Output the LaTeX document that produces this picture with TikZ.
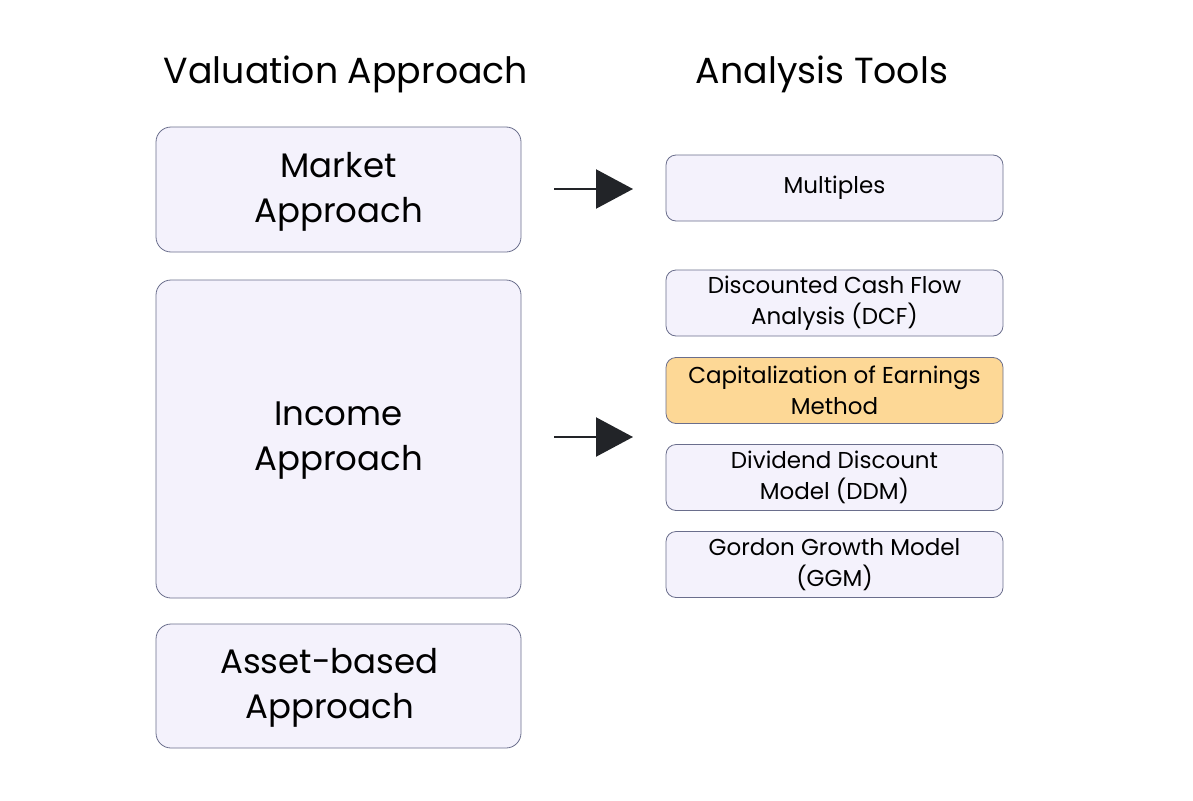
\documentclass[tikz,border=0pt]{standalone}
\usepackage{fontspec}
\setmainfont{Poppins}
\usetikzlibrary{arrows.meta,calc}
\definecolor{boxfill}{HTML}{F4F2FC}
\definecolor{boxdraw}{HTML}{6A6E8C}
\definecolor{hifill}{HTML}{FDD896}
\definecolor{arrowc}{HTML}{222428}
\tikzset{
  lbox/.style={draw=boxdraw, fill=boxfill, line width=0.8pt, rounded corners=15pt, minimum width=365pt, inner sep=0pt},
  rbox/.style={draw=boxdraw, fill=boxfill, line width=0.8pt, rounded corners=10pt, minimum width=337pt, minimum height=66pt, inner sep=0pt, align=center, font=\fontsize{23}{31}\selectfont},
  ltext/.style={align=center, font=\fontsize{34}{45}\selectfont, inner sep=0pt},
  title/.style={font=\fontsize{36.3}{40}\selectfont, inner sep=0pt, anchor=base},
  conn/.style={draw=arrowc, line width=2.2pt, -{Triangle[length=37pt,width=39pt]}}
}
\begin{document}
\begin{tikzpicture}[x=1pt,y=-1pt]
\useasboundingbox (0,0) rectangle (1193,800);
\node[title] (t1) at (346,83) {Valuation Approach};
\node[title] (t2) at (822,83) {Analysis Tools};
\node[lbox, minimum height=125pt] (market) at (338.5,189.5) {};
\node[ltext] (markettxt) at ($(market)+(0,2)$) {Market\\Approach};
\node[lbox, minimum height=318pt] (income) at (338.5,439) {};
\node[ltext] (incometxt) at ($(income)+(0,2)$) {Income\\Approach};
\node[lbox, minimum height=124pt] (asset) at (338.5,686) {};
\node[ltext] (assettxt) at ($(asset)+(-9,2)$) {Asset-based\\Approach};
\node[rbox] (mult) at (834.5,188) {Multiples};
\node[rbox] (dcf) at (834.5,303) {Discounted Cash Flow\\Analysis (DCF)};
\node[rbox, fill=hifill] (cap) at (834.5,390.5) {Capitalization of Earnings\\Method};
\node[rbox] (ddm) at (834.5,477.5) {Dividend Discount\\Model (DDM)};
\node[rbox] (ggm) at (834.5,564.5) {Gordon Growth Model\\(GGM)};
\coordinate (a1s) at (554,189);
\coordinate (a1e) at (633,189);
\coordinate (a2s) at (554,437);
\coordinate (a2e) at (633,437);
\draw[conn] (a1s) -- (a1e);
\draw[conn] (a2s) -- (a2e);
\end{tikzpicture}
\end{document}
